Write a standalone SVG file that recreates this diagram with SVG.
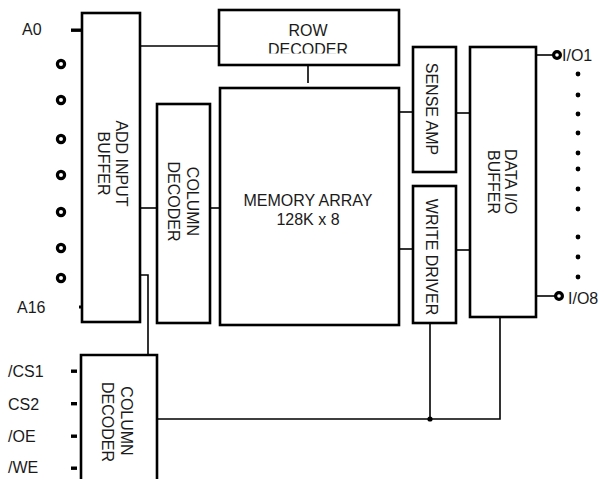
<svg xmlns="http://www.w3.org/2000/svg" width="605" height="479" viewBox="0 0 605 479">
<style>
.box{fill:#fff;stroke:#000;stroke-width:2.6}
.ln{fill:none;stroke:#000;stroke-width:1.6}
.pin{fill:#fff;stroke:#000;stroke-width:3.2}
.t{font-family:"Liberation Sans",Arial,sans-serif;font-size:16px;fill:#1a1a1a}
.m{text-anchor:middle}
</style>
<defs>
<clipPath id="rowclip"><rect x="219" y="10" width="180" height="43.5"/></clipPath>
</defs>
<g id="connectors">
<path class="ln" d="M140 46H219"/>
<path class="ln" d="M308 66V83"/>
<path class="ln" d="M140 208H157"/>
<path class="ln" d="M210 208H220"/>
<path class="ln" d="M140 275H148V355"/>
<path class="ln" d="M399 112H413"/>
<path class="ln" d="M399 249H413"/>
<path class="ln" d="M456 113H470"/>
<path class="ln" d="M456 250H470"/>
<path class="ln" d="M536 55H553"/>
<path class="ln" d="M536 296H555"/>
<path class="ln" d="M157 419H500V316"/>
<path class="ln" d="M430 323V419"/>
<circle cx="430" cy="419" r="2.6" fill="#000"/>
</g>
<g id="add-input-buffer">
<rect class="box" x="82" y="13" width="58" height="309"/>
<text class="t m" transform="translate(116,163.5) rotate(90)">ADD INPUT</text>
<text class="t m" transform="translate(98,163.5) rotate(90)">BUFFER</text>
</g>
<g id="row-decoder">
<rect class="box" x="219" y="10" width="180" height="55"/>
<text class="t m" x="308" y="36">ROW</text>
<text class="t m" x="308" y="55" clip-path="url(#rowclip)">DECODER</text>
</g>
<g id="column-decoder-top">
<rect class="box" x="157" y="104" width="53" height="219"/>
<text class="t m" transform="translate(187,201.5) rotate(90)">COLUMN</text>
<text class="t m" transform="translate(168,201.5) rotate(90)">DECODER</text>
</g>
<g id="memory-array">
<rect class="box" x="220" y="88" width="179" height="237"/>
<text class="t m" x="308" y="206">MEMORY ARRAY</text>
<text class="t m" x="308" y="225">128K x 8</text>
</g>
<g id="sense-amp">
<rect class="box" x="413" y="47" width="43" height="125"/>
<text class="t m" transform="translate(426,109) rotate(90)">SENSE AMP</text>
</g>
<g id="write-driver">
<rect class="box" x="413" y="186" width="43" height="137"/>
<text class="t m" transform="translate(426,257) rotate(90)">WRITE DRIVER</text>
</g>
<g id="data-io-buffer">
<rect class="box" x="470" y="47" width="66" height="270"/>
<text class="t m" transform="translate(505,181.5) rotate(90)">DATA I/O</text>
<text class="t m" transform="translate(488,182) rotate(90)">BUFFER</text>
</g>
<g id="column-decoder-bottom">
<path class="box" d="M81 482V355H157V482"/>
<text class="t m" transform="translate(121,421) rotate(90)">COLUMN</text>
<text class="t m" transform="translate(102,422) rotate(90)">DECODER</text>
</g>
<g id="address-pins">
<text class="t" x="22" y="35">A0</text>
<rect x="71" y="28.5" width="11" height="3.4" fill="#000"/>
<circle class="pin" cx="61" cy="64" r="3.6"/>
<circle class="pin" cx="61" cy="100" r="3.6"/>
<circle class="pin" cx="61" cy="139" r="3.6"/>
<circle class="pin" cx="61" cy="175" r="3.6"/>
<circle class="pin" cx="61" cy="212" r="3.6"/>
<circle class="pin" cx="61" cy="248" r="3.6"/>
<circle class="pin" cx="61" cy="278" r="3.6"/>
<text class="t" x="17" y="313">A16</text>
<rect x="79" y="305.5" width="3" height="3" fill="#000"/>
</g>
<g id="control-pins">
<text class="t" x="8" y="377">/CS1</text>
<rect x="71" y="369.5" width="6" height="3.4" fill="#000"/>
<text class="t" x="8" y="410">CS2</text>
<rect x="71" y="402" width="6" height="3.4" fill="#000"/>
<text class="t" x="8" y="442">/OE</text>
<rect x="71" y="434.5" width="6" height="3.4" fill="#000"/>
<text class="t" x="8" y="473">/WE</text>
<rect x="71" y="466.5" width="6" height="3.4" fill="#000"/>
</g>
<g id="io-pins">
<circle class="pin" cx="557" cy="55" r="3.4"/>
<text class="t" x="562" y="61">I/O1</text>
<circle cx="578" cy="74" r="2.4" fill="#000"/>
<circle cx="578" cy="95" r="2.4" fill="#000"/>
<circle cx="578" cy="114" r="2.4" fill="#000"/>
<circle cx="578" cy="133" r="2.4" fill="#000"/>
<circle cx="578" cy="153" r="2.4" fill="#000"/>
<circle cx="578" cy="169" r="2.4" fill="#000"/>
<circle cx="578" cy="189" r="2.4" fill="#000"/>
<circle cx="578" cy="209" r="2.4" fill="#000"/>
<circle cx="578" cy="237" r="2.4" fill="#000"/>
<circle cx="578" cy="257" r="2.4" fill="#000"/>
<circle cx="578" cy="277" r="2.4" fill="#000"/>
<circle class="pin" cx="559" cy="296" r="3.4"/>
<text class="t" x="568" y="304">I/O8</text>
</g>
</svg>
